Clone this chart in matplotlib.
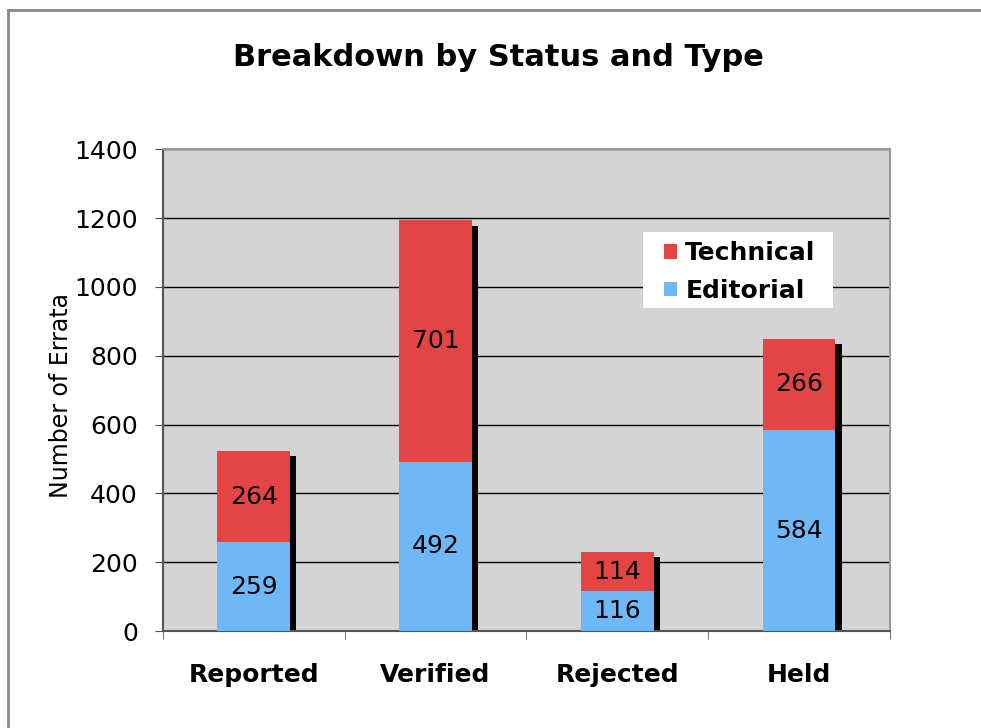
import matplotlib.pyplot as plt
from matplotlib.lines import Line2D
from matplotlib.patches import Rectangle
import numpy as np

# Données
categories = ["Reported", "Verified", "Rejected", "Held"]
editorial = [259, 492, 116, 584]
technical = [264, 701, 114, 266]

couleur_tech = "#E34545"
couleur_edit = "#6FB8F8"

fig = plt.figure(figsize=(9.81, 7.28), dpi=100)
ax = fig.add_axes([0.166, 0.133, 0.741, 0.662])
ax.set_facecolor("#D4D4D4")

x = np.arange(len(categories))
totaux = [e + t for e, t in zip(editorial, technical)]
largeur = 0.40

# ombre noire derrière chaque barre
ax.bar(x + 0.035, [t - 15 for t in totaux], width=largeur, color="black", zorder=2)

# barres empilées
ax.bar(x, editorial, width=largeur, color=couleur_edit, label="Editorial", zorder=3)
ax.bar(x, technical, width=largeur, bottom=editorial, color=couleur_tech,
       label="Technical", zorder=3)

# étiquettes des valeurs
for i in range(len(categories)):
    ax.text(x[i], editorial[i] / 2, str(editorial[i]), ha="center", va="center",
            fontsize=18, zorder=4)
    ax.text(x[i], editorial[i] + technical[i] / 2, str(technical[i]), ha="center",
            va="center", fontsize=18, zorder=4)

ax.set_xlim(-0.5, 3.5)
ax.set_ylim(0, 1400)
ax.set_yticks(range(0, 1401, 200))
ax.yaxis.grid(True, color="black", linewidth=1.0, zorder=1)
ax.set_axisbelow(True)

ax.set_xticks(x)
ax.set_xticklabels(categories, fontsize=18, fontweight="bold")
ax.set_xticks(np.arange(-0.5, 3.6, 1), minor=True)
ax.tick_params(axis="x", which="major", length=0, pad=23)
ax.tick_params(axis="x", which="minor", length=6, color="#555555", direction="out")
ax.tick_params(axis="y", labelsize=18, length=6, color="#555555", pad=12)

for cote in ["left", "bottom"]:
    ax.spines[cote].set_color("#555555")
    ax.spines[cote].set_linewidth(1.5)
for cote in ["top", "right"]:
    ax.spines[cote].set_color("#999999")
    ax.spines[cote].set_linewidth(1.5)

ax.set_ylabel("Number of Errata", fontsize=17)
ax.yaxis.set_label_coords(-0.124, 0.49)
fig.text(0.508, 0.921, "Breakdown by Status and Type", ha="center", va="center",
         fontsize=22, fontweight="bold")

# légende : fond blanc dessiné à part, légende sans cadre
ax.add_patch(Rectangle((0.660, 0.670), 0.262, 0.158, transform=ax.transAxes,
                       facecolor="white", edgecolor="none", zorder=4.5))
poignees, libelles = ax.get_legend_handles_labels()
leg = ax.legend(poignees[::-1], libelles[::-1], loc="upper left",
                bbox_to_anchor=(0.674, 0.832), borderaxespad=0, frameon=False,
                handlelength=0.5, handleheight=0.5, handletextpad=0.35,
                labelspacing=0.55, borderpad=0.45,
                prop={"size": 18, "weight": "bold"})
leg.set_zorder(5)

# cadre extérieur (gauche et haut)
fig.add_artist(Line2D([8 / 981, 8 / 981], [0, 1 - 10 / 728], color="#888888",
                      linewidth=2, transform=fig.transFigure))
fig.add_artist(Line2D([8 / 981, 1], [1 - 10 / 728, 1 - 10 / 728], color="#888888",
                      linewidth=2, transform=fig.transFigure))

fig.savefig("out.png", dpi=100)
